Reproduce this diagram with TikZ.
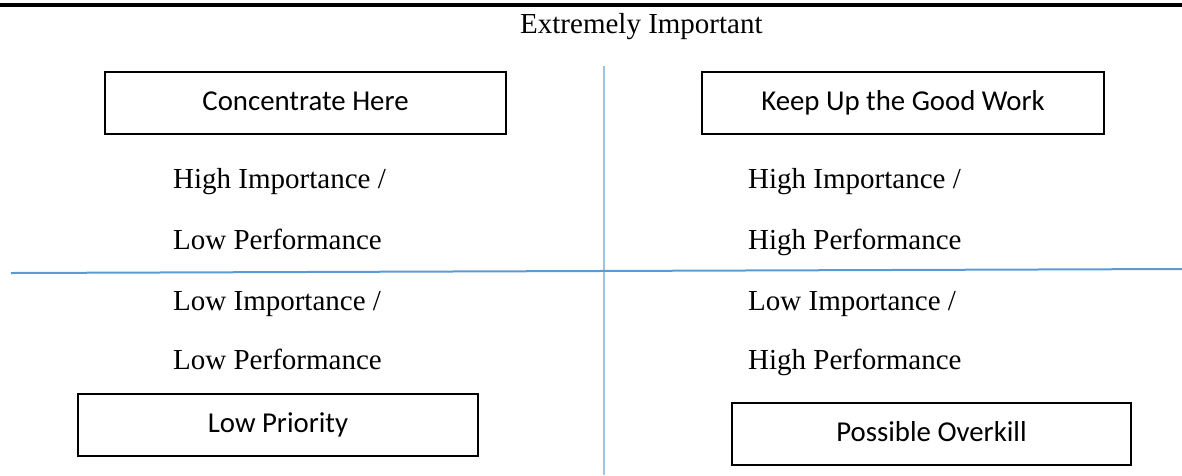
\documentclass[tikz,border=0pt]{standalone}
\usepackage{fontspec}
\setmainfont{Liberation Serif}
\newfontfamily\boxfont{Carlito}
\definecolor{hblue}{RGB}{91,155,213}
\definecolor{vblue}{RGB}{157,195,230}
\begin{document}
\begin{tikzpicture}[x=1pt,y=-1pt,
  quadbox/.style={draw=black, line width=1.5pt, inner sep=0pt,
    font=\boxfont\fontsize{28.8}{34}\selectfont,
    text height=19pt, text depth=4pt, minimum height=62pt},
  label/.style={anchor=base west, inner sep=0pt,
    font=\fontsize{29}{34}\selectfont},
  axis/.style={line width=2pt}]
\useasboundingbox (0,0) rectangle (1182,475);
% top rule
\coordinate (barL) at (0,5);
\coordinate (barR) at (1182,5);
\draw[line width=4pt, black] (barL) -- (barR);
% title
\node[label] (title) at (520,33) {Extremely Important};
% axes
\coordinate (vtop) at (604,66);
\coordinate (vbot) at (604,475);
\coordinate (hl) at (11,273);
\coordinate (hr) at (1182,269);
\draw[axis, vblue] (vtop) -- (vbot);
\draw[axis, hblue] (hl) -- (hr);
% boxes
\node[quadbox, minimum width=401pt] (ch) at (305.5,103) {Concentrate Here};
\node[quadbox, minimum width=402pt] (ku) at (903,103) {Keep Up the Good Work};
\node[quadbox, minimum width=400pt] (lp) at (278,425) {Low Priority};
\node[quadbox, minimum width=399pt] (po) at (931.5,434) {Possible Overkill};
% quadrant labels
\node[label] (tl1) at (173,188) {High Importance /};
\node[label] (tl2) at (173,249) {Low Performance};
\node[label] (bl1) at (173,310) {Low Importance /};
\node[label] (bl2) at (173,369) {Low Performance};
\node[label] (tr1) at (748,188) {High Importance /};
\node[label] (tr2) at (748,249) {High Performance};
\node[label] (br1) at (748,310) {Low Importance /};
\node[label] (br2) at (748,369) {High Performance};
\end{tikzpicture}
\end{document}
